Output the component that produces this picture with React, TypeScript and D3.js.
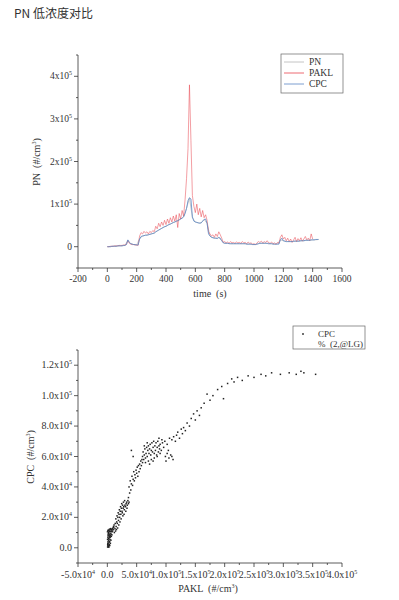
import React from 'react'
import * as d3 from 'd3'

// values in thousands (#/cm3)
const K = 1000

const pnValues = [0, 0, 1, 1, 2, 2, 3, 15, 7, 5, 4, 19, 25, 27, 28, 30, 32, 37, 41, 45, 48, 52, 55, 58, 61, 65, 70, 90, 114, 68, 58, 56, 56, 64, 55, 25, 21, 20, 21, 14, 8, 8, 7, 7, 7, 7, 7, 7, 6, 6, 5, 6, 8, 8, 8, 7, 7, 6, 6, 16, 14, 12, 12, 12, 13, 13, 14, 14, 15, 15, 16, 16, 17]
const pnTime = pnValues.map((_, i) => i * 20)

const paklValues = [
  0, 0, 1, 1, 1, 2, 2, 2, 3, 3, 3, 4, 4, 5,
  14, 8, 6, 5, 5, 4, 4, 3,
  25, 33, 30, 36, 32, 35, 30, 36, 33, 38, 35,
  48, 42, 55, 47, 58, 50, 62, 52, 65, 55, 68, 58, 72, 60, 75, 45, 78, 65, 85, 72,
  110, 160, 230, 380, 250, 120, 95, 80, 100, 75, 90, 70, 85, 68, 75, 62,
  35, 30, 25, 28, 22, 30, 24, 35, 28, 20,
  10, 12, 9, 11, 8, 12, 9, 10, 8, 11, 9, 10, 8, 12, 9, 10, 7, 11, 8, 9, 6, 7, 5, 9, 12, 10, 13, 9, 12, 10, 14, 9, 8, 11, 7, 9, 6, 10, 8,
  22, 28, 18, 22, 14, 20, 12, 18, 10, 16, 22, 12, 19, 14, 21, 13, 18, 24, 16, 20, 14, 30, 18,
]
const paklTime = paklValues.map((_, i) => i * 10)

const cpcValues = [
  0, 0, 0, 1, 1, 1, 1, 2, 2, 2, 2, 3, 3, 5,
  16, 10, 7, 6, 5, 5, 4, 4,
  18, 24, 25, 26, 27, 27, 28, 29, 30, 31, 32,
  35, 37, 39, 41, 43, 45, 47, 48, 50, 52, 53, 55, 57, 58, 60, 61, 63, 65, 67, 70,
  78, 90, 108, 115, 112, 70, 60, 58, 57, 56, 55, 56, 60, 64, 65, 55,
  30, 25, 22, 21, 20, 20, 19, 22, 20, 14,
  9, 8, 8, 8, 7, 7, 7, 7, 7, 7, 7, 7, 7, 7, 7, 7, 6, 6, 6, 6, 5, 5, 5, 6, 7, 8, 8, 8, 8, 8, 8, 7, 7, 7, 6, 6, 6, 6, 6,
  16, 20, 14, 13, 12, 12, 12, 12, 12, 13, 13, 13, 13, 13, 14, 14, 14, 15, 15, 15, 15, 16, 16, 16, 17, 17, 17,
]
const cpcTime = cpcValues.map((_, i) => i * 10)

// scatter: PAKL (x) vs CPC (y), thousands
const scatterPakl = [
  0.5, 1, 1.5, 2, 0.8, 2.5, 3, 1.2, 3.5, 2.2, 4, 1.8, 3.2, 4.5, 0.9, 2.8, 5, 3.6, 1.5, 4.8, 2.4, 5.5, 3.9, 1.1, 6, 2.9, 4.4, 6.5, 7, 5.8, 0.3, 1.9, 3.3, 7.5, 8, 0.6, 2.6, 4.1, 5.2, 6.1, 6.8, 7.8, 8.5, 9, 9.5, 10, 10.5, 11, 0.4, 1.3, 2.1, 3.7, 4.9,
  12, 13, 14, 11.5, 13.5, 15, 16, 14.5, 17, 18, 16.5, 19, 20, 18.5, 21, 22, 20.5, 23, 24, 22.5, 25, 26, 24.5, 27, 28, 27.5, 29, 30, 29.5, 31, 32, 31.5, 33, 34, 35, 36, 26.5, 19.5, 15.5, 23.5, 21.5, 28.5, 33.5, 37, 17.5, 25.5,
  36, 38, 37, 40, 41, 39, 43, 44, 42, 46, 47, 45, 48, 49, 50, 51, 52, 53, 54, 55, 56, 57, 58, 59, 60,
  41, 44,
  60, 62, 61, 63, 64, 65, 66, 67, 68, 69, 70, 71, 72, 73, 74, 75, 76, 77, 78, 79, 80, 81, 82, 83, 84, 85, 86, 87, 88, 89, 90, 92, 94, 96, 65, 70, 75, 80, 63, 68, 72, 78, 85, 90, 93, 88,
  99, 102, 105, 108, 110, 112, 104, 100,
  98, 102, 106, 110, 113, 116, 118, 120, 123, 126, 128, 130, 133, 136, 140, 143, 147, 150, 153, 157, 160, 165, 170, 175, 180, 188, 195, 198, 205, 212, 216, 222, 230, 240, 250, 262, 270, 280, 295, 310, 322, 330, 335, 355,
]
const scatterCpc = [
  0.5, 1.5, 0.8, 2.5, 3, 1.2, 3.5, 4, 2, 5, 4.2, 6, 6.5, 5.5, 7, 7.8, 7, 8.5, 9, 9.2, 10, 10.5, 11, 11.5, 11.8, 12, 12.3, 9, 11, 12.6, 10.5, 11.2, 10.8, 12, 10.5, 2, 0.4, 1.5, 3, 5, 7.5, 8.5, 12.5, 11, 13, 12, 14, 13.5, 5.5, 8.2, 9.5, 7.2, 8,
  10, 12.5, 11, 15, 16, 14, 17, 19, 16, 20, 21, 18, 22, 23, 20, 24, 25, 22, 26, 27, 24, 28, 29, 26, 27, 30, 25, 28, 31, 27, 29, 24, 30, 28, 31, 29, 21, 15, 12, 19, 17, 22, 26, 30, 13, 23,
  33, 36, 40, 38, 42, 44, 41, 45, 47, 44, 48, 50, 46, 51, 49, 53, 47, 54, 50, 55, 52, 57, 54, 58, 56,
  64, 60,
  60, 58, 63, 61, 65, 59, 62, 66, 60, 64, 67, 62, 65, 68, 61, 64, 69, 63, 66, 70, 62, 67, 64, 69, 61, 66, 70, 63, 67, 65, 68, 64, 69, 66, 56, 57, 58, 59, 67, 69, 55, 57, 60, 62, 71, 72,
  60, 62, 59, 61, 60, 58, 64, 57,
  70, 68, 72, 71, 73, 70, 74, 76, 72, 78, 75, 79, 77, 82, 80, 85, 88, 84, 90, 87, 92, 95, 101, 97, 100, 104, 106, 98, 108, 111, 109, 112, 110, 113, 112, 114, 113, 115, 114, 115, 114, 116, 115, 114,
]

const topYTicks = [0, 100, 200, 300, 400]
const topXTicks = [-200, 0, 200, 400, 600, 800, 1000, 1200, 1400, 1600]
const botYTicks = [0, 20, 40, 60, 80, 100, 120]
const botXTicks = [-50, 0, 50, 100, 150, 200, 250, 300, 350, 400]

const SERIF = '"Liberation Serif", "Noto Sans CJK SC", serif'
const AXIS = '#333'

function Sci({ v, digits }: { v: number; digits: boolean }) {
  // v in thousands
  const real = v * K
  if (real === 0) return <>{digits ? '0.0' : '0'}</>
  const exp = Math.floor(Math.log10(Math.abs(real)))
  const mant = real / Math.pow(10, exp)
  return (
    <>
      {digits ? mant.toFixed(1) : String(mant)}x10
      <tspan dy={-4} fontSize={6}>{exp}</tspan>
    </>
  )
}

function Unit({ name }: { name: string }) {
  return (
    <>
      {name}  (#/cm<tspan dy={-4} fontSize={6}>3</tspan><tspan dy={4}>)</tspan>
    </>
  )
}

export default function App() {
  const tx = d3.scaleLinear().domain([-200, 1600]).range([78, 342])
  const ty = d3.scaleLinear().domain([-50, 450]).range([268, 55])
  const bx = d3.scaleLinear().domain([-50, 400]).range([78, 342])
  const by = d3.scaleLinear().domain([-10, 130]).range([563, 350])

  const line = (times: number[], vals: number[]) =>
    d3.line<number>()
      .x((_, i) => tx(times[i]))
      .y(d => ty(d))(vals) || ''

  const topYMinor = d3.range(-50, 451, 50)
  const topXMinor = d3.range(-200, 1601, 100)
  const botYMinor = d3.range(-10, 131, 10)
  const botXMinor = d3.range(-50, 401, 25)

  return (
    <svg width={399} height={600} style={{ position: 'absolute', left: 0, top: 0, background: '#fff' }}>
      <text x={14} y={18} fontFamily='"Noto Sans CJK SC", sans-serif' fontSize={12} fill='#333'>PN 低浓度对比</text>

      {/* ---- top chart ---- */}
      <g>
        <path d={line(pnTime, pnValues)} fill='none' stroke='#b5b5b5' strokeWidth={0.7} />
        <path d={line(paklTime, paklValues)} fill='none' stroke='#e8454f' strokeWidth={0.7} strokeOpacity={0.75} />
        <path d={line(cpcTime, cpcValues)} fill='none' stroke='#5b86c4' strokeWidth={0.8} />

        <line x1={78} x2={78} y1={55} y2={268} stroke={AXIS} strokeWidth={0.8} />
        <line x1={78} x2={342} y1={268} y2={268} stroke={AXIS} strokeWidth={0.8} />
        {topYMinor.map(v => (
          <line key={'ym' + v} x1={78} x2={topYTicks.includes(v) ? 74 : 76} y1={ty(v)} y2={ty(v)} stroke={AXIS} strokeWidth={0.8} />
        ))}
        {topXMinor.map(v => (
          <line key={'xm' + v} y1={268} y2={topXTicks.includes(v) ? 272 : 270} x1={tx(v)} x2={tx(v)} stroke={AXIS} strokeWidth={0.8} />
        ))}
        {topYTicks.map(v => (
          <text key={'yt' + v} x={72} y={ty(v) + 3} textAnchor='end' fontFamily={SERIF} fontSize={9.5} fill='#333'>
            {v === 0 ? '0' : <Sci v={v} digits={false} />}
          </text>
        ))}
        {topXTicks.map(v => (
          <text key={'xt' + v} x={tx(v)} y={282} textAnchor='middle' fontFamily={SERIF} fontSize={9.5} fill='#333'>{v}</text>
        ))}
        <text x={210} y={297} textAnchor='middle' fontFamily={SERIF} fontSize={10} fill='#333' style={{ whiteSpace: 'pre' }}>time  (s)</text>
        <text transform='translate(40,162) rotate(-90)' textAnchor='middle' fontFamily={SERIF} fontSize={10} fill='#333' style={{ whiteSpace: 'pre' }}>
          <Unit name='PN' />
        </text>

        <rect x={281} y={54} width={62} height={39} fill='#fff' stroke='#666' strokeWidth={0.7} />
        {[['PN', '#b5b5b5'], ['PAKL', '#e8454f'], ['CPC', '#5b86c4']].map(([name, c], i) => (
          <g key={name}>
            <line x1={284} x2={304} y1={62 + i * 11} y2={62 + i * 11} stroke={c} strokeWidth={0.8} />
            <text x={309} y={65 + i * 11} fontFamily={SERIF} fontSize={9.5} fill='#333'>{name}</text>
          </g>
        ))}
      </g>

      {/* ---- bottom chart ---- */}
      <g>
        {scatterPakl.map((x, i) => (
          <rect key={'p' + i} x={bx(x) - 0.75} y={by(scatterCpc[i]) - 0.75} width={1.5} height={1.5} fill='#222' />
        ))}

        <line x1={78} x2={78} y1={350} y2={563} stroke={AXIS} strokeWidth={0.8} />
        <line x1={78} x2={342} y1={563} y2={563} stroke={AXIS} strokeWidth={0.8} />
        {botYMinor.map(v => (
          <line key={'bym' + v} x1={78} x2={botYTicks.includes(v) ? 74 : 76} y1={by(v)} y2={by(v)} stroke={AXIS} strokeWidth={0.8} />
        ))}
        {botXMinor.map(v => (
          <line key={'bxm' + v} y1={563} y2={botXTicks.includes(v) ? 567 : 565} x1={bx(v)} x2={bx(v)} stroke={AXIS} strokeWidth={0.8} />
        ))}
        {botYTicks.map(v => (
          <text key={'byt' + v} x={72} y={by(v) + 3} textAnchor='end' fontFamily={SERIF} fontSize={10} fill='#333'>
            <Sci v={v} digits={true} />
          </text>
        ))}
        {botXTicks.map(v => (
          <text key={'bxt' + v} x={bx(v)} y={578} textAnchor='middle' fontFamily={SERIF} fontSize={10} fill='#333'>
            <Sci v={v} digits={true} />
          </text>
        ))}
        <text x={208} y={592} textAnchor='middle' fontFamily={SERIF} fontSize={10} fill='#333' style={{ whiteSpace: 'pre' }}>
          <Unit name='PAKL' />
        </text>
        <text transform='translate(34,457) rotate(-90)' textAnchor='middle' fontFamily={SERIF} fontSize={10} fill='#333' style={{ whiteSpace: 'pre' }}>
          <Unit name='CPC' />
        </text>

        <rect x={293} y={326} width={72} height={23} fill='#fff' stroke='#666' strokeWidth={0.7} />
        <rect x={302.2} y={333.2} width={1.6} height={1.6} fill='#222' />
        <text x={318} y={337} fontFamily={SERIF} fontSize={9} fill='#333'>CPC</text>
        <text x={318} y={347} fontFamily={SERIF} fontSize={9} fill='#333' style={{ whiteSpace: 'pre' }}>%  (2,@LG)</text>
      </g>
    </svg>
  )
}
